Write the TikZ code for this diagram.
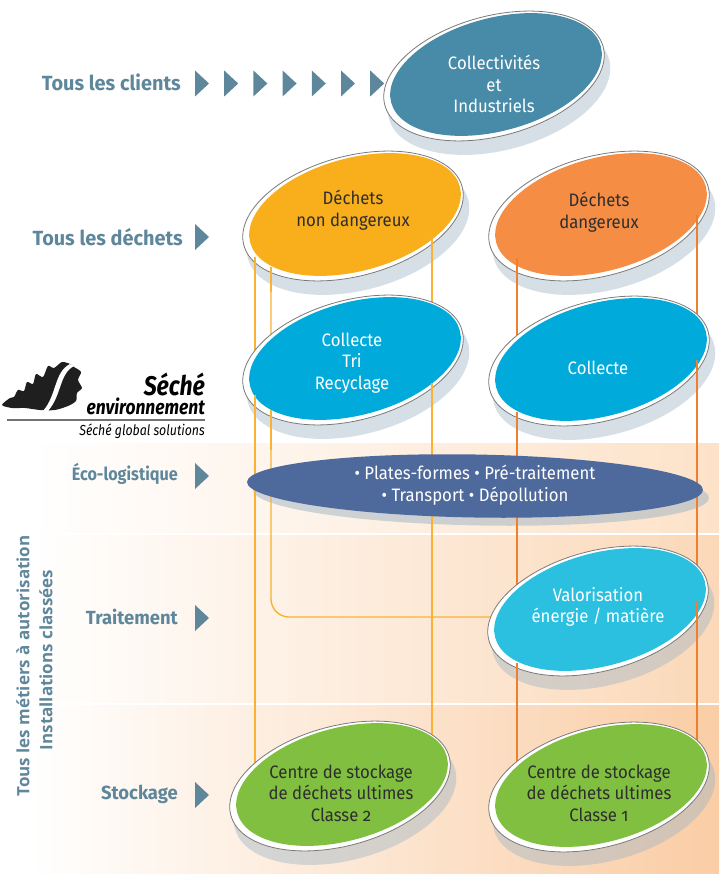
\documentclass[tikz,border=0pt]{standalone}
\usepackage{fontspec}
\setmainfont{Fira Sans}
\newfontfamily\condf{Fira Sans}[FakeStretch=0.93]
\newfontfamily\labf{Fira Sans}[FakeStretch=0.97]
\newfontfamily\labnf{Fira Sans}[FakeStretch=0.9]
\newfontfamily\condfo{Fira Sans}[FakeStretch=0.93,Numbers=OldStyle]
\newfontfamily\widef{Open Sans}
\newfontfamily\logof{Fira Sans}[FakeStretch=0.85]
\usetikzlibrary{shapes.geometric}
\definecolor{slate}{HTML}{5F879B}
\definecolor{ccC}{HTML}{478BA8}
\definecolor{dndC}{HTML}{F8AF1B}
\definecolor{ddC}{HTML}{F58D45}
\definecolor{colC}{HTML}{00AADB}
\definecolor{ecoC}{HTML}{4E6A9D}
\definecolor{valC}{HTML}{2BBFE0}
\definecolor{grnC}{HTML}{80BF40}
\definecolor{lineY}{HTML}{F9B233}
\definecolor{lineO}{HTML}{EE7F2D}
\definecolor{ringC}{HTML}{7A7A7A}
\definecolor{shadowC}{HTML}{9DB3C4}
\definecolor{darkT}{HTML}{2E2E2E}
\definecolor{bandA}{HTML}{FDE2C9}
\definecolor{bandB}{HTML}{FBD8B8}
\definecolor{bandC}{HTML}{FACDA5}
\tikzset{
  lab/.style={font=\labf\bfseries\fontsize{20.5}{20.5}\selectfont, text=slate, anchor=east, inner sep=0pt},
  lab2/.style={lab, font=\labf\bfseries\fontsize{19}{19}\selectfont},
  chev/.style={fill=slate},
  shad/.style={ellipse, fill=shadowC, fill opacity=0.42, minimum width=228pt, minimum height=122pt, inner sep=0pt, rotate=15},
  ring/.style={ellipse, draw=ringC, line width=0.8pt, fill=white, minimum width=226pt, minimum height=120pt, inner sep=0pt, rotate=15},
  disc/.style={ellipse, fill=#1, minimum width=217pt, minimum height=113pt, inner sep=0pt, rotate=15},
  etext/.style={font=\condf\fontsize{18}{21.5}\selectfont, align=center, inner sep=0pt},
  ylw/.style={draw=lineY, line width=1.4pt},
  org/.style={draw=lineO, line width=1.4pt},
  vtext/.style={font=\widef\bfseries\fontsize{17}{17}\selectfont, text=slate, rotate=90, inner sep=0pt},
}
\begin{document}
\begin{tikzpicture}[x=1pt,y=-1pt]
\useasboundingbox (0,0) rectangle (719,874);
% background bands
\shade[left color=white, right color=bandA] (30,443) rectangle (719,534);
\shade[left color=white, right color=bandB] (30,534) rectangle (719,704);
\shade[left color=white, right color=bandC] (30,704) rectangle (719,874);
\draw[white, line width=1.2pt] (30,534) -- (719,534);
\draw[white, line width=1.2pt] (30,704) -- (719,704);
% shadows
\foreach \n/\x/\y in {cc/494/76, dnd/353/216, dd/599/216, ctr/353/360, col/599/361, val/598/611, cl2/340/786, cl1/599/787}{
  \node[shad] (s\n) at (\x+5,\y+13) {};
}
\node[ellipse, fill=shadowC, fill opacity=0.5, minimum width=456pt, minimum height=63pt, inner sep=0pt, rotate=-1] (seco) at (481,494) {};
% connectors (behind discs)
\coordinate (l1s) at (255,257); \coordinate (l1e) at (255,790);
\coordinate (l2s) at (271,267); \coordinate (l2e) at (560,617);
\coordinate (l3s) at (432,238); \coordinate (l3e) at (432,770);
\coordinate (l4s) at (517,258); \coordinate (l4e) at (517,790);
\coordinate (l5s) at (697,215); \coordinate (l5e) at (697,775);
\draw[ylw] (l1s) -- (l1e);
\draw[ylw, rounded corners=18pt] (l2s) |- (l2e);
\draw[ylw] (l3s) -- (l3e);
\draw[org] (l4s) -- (l4e);
\draw[org] (l5s) -- (l5e);
% discs
\foreach \n/\x/\y/\c in {cc/494/76/ccC, dnd/353/216/dndC, dd/599/216/ddC, ctr/353/360/colC, col/599/361/colC, val/598/611/valC, cl2/340/786/grnC, cl1/599/787/grnC}{
  \node[ring] (r\n) at (\x,\y) {};
  \node[disc=\c] (\n) at (\x+2,\y-1.5) {};
}
\node[ellipse, fill=ecoC, minimum width=456pt, minimum height=63pt, inner sep=0pt, rotate=-1] (eco) at (475,486) {};
% visible parts of connectors in front of discs
\foreach \x/\a/\b/\s in {255/257/292/ylw, 255/395/450/ylw, 271/267/292/ylw, 271/410/450/ylw, 432/238/292/ylw, 432/383/450/ylw,
  517/258/292/org, 517/412/450/org, 517/663/700/org, 697/215/292/org, 697/360/450/org, 697/602/700/org}{
  \draw[\s] (\x,\a) -- (\x,\b);
}
% chevrons
\foreach \x in {195,224.2,253.4,282.6,311.8,341,370.2}{
  \fill[chev] (\x,70.5) -- (\x,96.5) -- (\x+14,83.5) -- cycle;
}
\fill[chev] (195,224) -- (195,250) -- (209,237) -- cycle;
\fill[chev] (195,463) -- (195,489) -- (209,476) -- cycle;
\fill[chev] (195,605) -- (195,631) -- (209,618) -- cycle;
\fill[chev] (195,782) -- (195,808) -- (209,795) -- cycle;
% row labels
\node[lab] (Lcli) at (181,82) {Tous les clients};
\node[lab] (Ldec) at (183,237) {Tous les déchets};
\node[lab2, font=\labnf\bfseries\fontsize{18}{18}\selectfont] (Leco) at (178,474) {Éco-logistique};
\node[lab2] (Ltra) at (178,617) {Traitement};
\node[lab2] (Lsto) at (178,794) {Stockage};
\node[vtext] (V1) at (23,666) {Tous les métiers à autorisation};
\node[vtext] (V2) at (46,660) {Installations classées};
% disc texts
\node[etext, text=white] (tcc) at (494,84) {Collectivités\\et\\Industriels};
\node[etext, text=darkT] (tdnd) at (353,210) {Déchets\\non dangereux};
\node[etext, text=darkT] (tdd) at (599,212) {Déchets\\dangereux};
\node[etext, text=white] (tctr) at (352,363) {Collecte\\Tri\\Recyclage};
\node[etext, text=white] (tcol) at (598,368) {Collecte};
\node[etext, text=white] (teco) at (475,485) {• Plates-formes • Pré-traitement\\• Transport • Dépollution};
\node[etext, text=white] (tval) at (598,607) {Valorisation\\énergie / matière};
\node[etext, text=darkT, font=\condfo\fontsize{18}{21.5}\selectfont] (tcl2) at (341,793) {Centre de stockage\\de déchets ultimes\\Classe 2};
\node[etext, text=darkT, font=\condfo\fontsize{18}{21.5}\selectfont] (tcl1) at (599,793) {Centre de stockage\\de déchets ultimes\\Classe 1};
% logo: oak leaf with white swoosh
\fill[black!88] plot[smooth cycle, tension=0.45] coordinates {(2,405) (10,398) (14,397) (18,390) (24,391) (27,382) (33,384) (36,374) (43,377) (48,366) (54,368) (62,362) (70,364) (74,367) (81,372) (78,380) (82,388) (77,393) (76,401) (68,406) (55,410) (40,410) (25,408) (12,408)};
\fill[white] (70,364) .. controls (54,372) and (57,395) .. (43,411) -- (48,411) .. controls (62,395) and (59,374) .. (74,366) -- cycle;
\node[inner sep=0pt, anchor=base east, text depth=0pt, font=\logof\bfseries\itshape\fontsize{27}{27}\selectfont] (lg1) at (205,395) {Séché};
\node[inner sep=0pt, anchor=base east, text height=11pt, font=\logof\bfseries\itshape\fontsize{20.5}{20.5}\selectfont] (lg2) at (205,414) {environnement};
\coordinate (ul1) at (7,420); \coordinate (ul2) at (205,420);
\draw[black!55, line width=1.2pt] (ul1) -- (ul2);
\node[inner sep=0pt, anchor=base east, font=\logof\itshape\fontsize{14.5}{14.5}\selectfont] (lg3) at (205,435) {Séché global solutions};
\end{tikzpicture}
\end{document}
